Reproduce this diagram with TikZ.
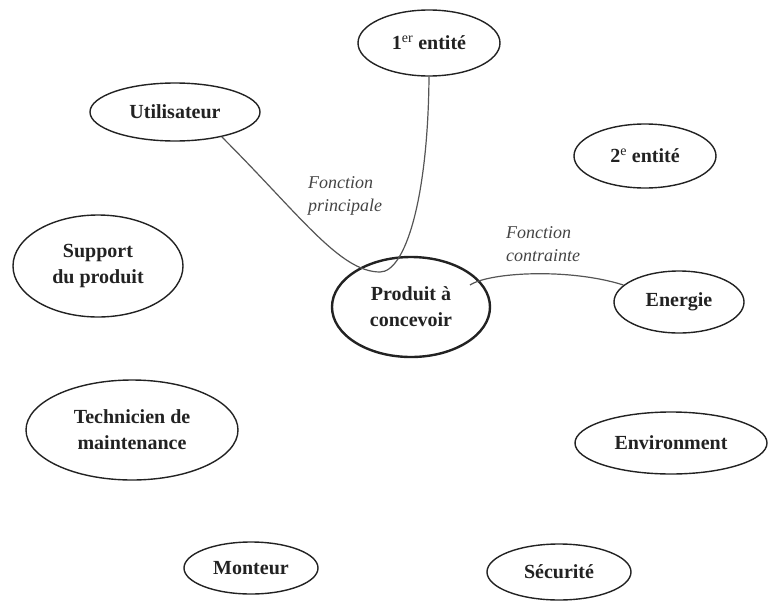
\documentclass[tikz,border=0pt]{standalone}
\usepackage{fontspec}
\setmainfont{Liberation Serif}
\usetikzlibrary{shapes.geometric}
\definecolor{ink}{HTML}{222222}
\definecolor{lab}{HTML}{444444}
\definecolor{wire}{HTML}{555555}
\begin{document}
\begin{tikzpicture}[x=1pt,y=-1pt,
  ent/.style={ellipse,draw=ink,line width=1.4pt,inner sep=0pt,align=center,
    font=\fontsize{20}{26}\selectfont\bfseries,text=ink},
  prod/.style={ent,line width=2.4pt},
  lbl/.style={inner sep=0pt,align=left,font=\fontsize{18}{23}\selectfont\itshape,text=lab,anchor=north west},
  wirestyle/.style={draw=wire,line width=1.2pt}]
\useasboundingbox (0,0) rectangle (771,600);
\node[ent,minimum width=142pt,minimum height=66pt] (ent1) at (429,43) {1\textsuperscript{\normalfont er} entité};
\node[ent,minimum width=170pt,minimum height=58pt] (uti) at (175,112) {Utilisateur};
\node[ent,minimum width=142pt,minimum height=64pt] (ent2) at (645,156) {2\textsuperscript{\normalfont e} entité};
\node[ent,minimum width=170pt,minimum height=102pt] (supp) at (98,266) {Support\\du produit};
\node[prod,minimum width=158pt,minimum height=100pt] (prod) at (411,307) {Produit à\\concevoir};
\node[ent,minimum width=130pt,minimum height=62pt] (ene) at (679,302) {Energie};
\node[ent,minimum width=212pt,minimum height=100pt] (tech) at (132,430) {Technicien de\\maintenance};
\node[ent,minimum width=192pt,minimum height=62pt] (env) at (671,443) {Environment};
\node[ent,minimum width=134pt,minimum height=52pt] (mont) at (251,568) {Monteur};
\node[ent,minimum width=144pt,minimum height=56pt] (secu) at (559,572) {Sécurité};
\node[lbl] (fp) at (308,176) {Fonction\\principale};
\node[lbl] (fc) at (506,226) {Fonction\\contrainte};
\coordinate (c1) at (470,285);
\coordinate (trough) at (380,272);
\draw[wirestyle] (uti.-28) .. controls (300,215) and (340,272) .. (trough)
  .. controls (405,272) and (428,200) .. (ent1.south);
\draw[wirestyle] (c1) .. controls (490,272) and (570,268) .. (ene.163);
\end{tikzpicture}
\end{document}
